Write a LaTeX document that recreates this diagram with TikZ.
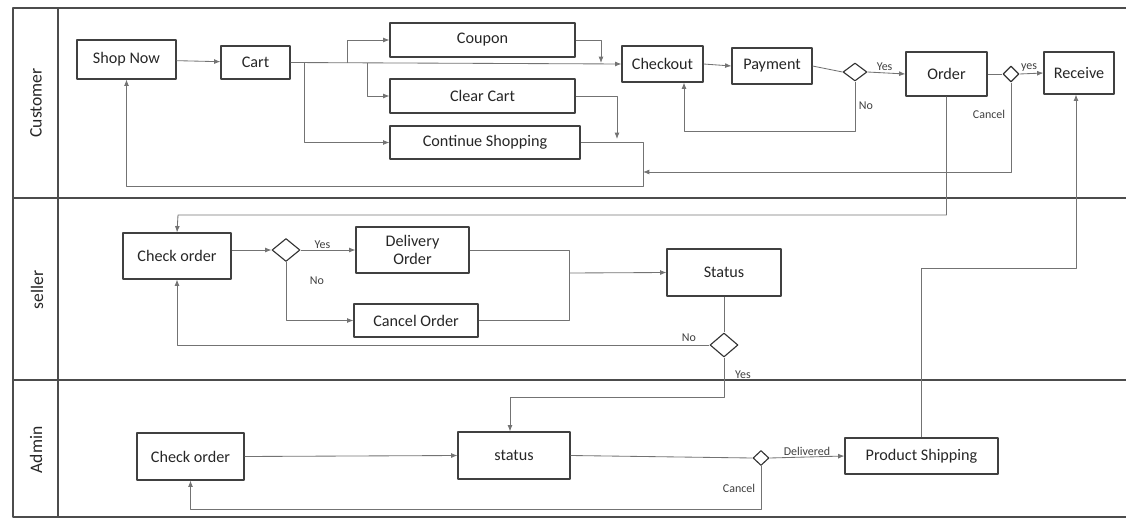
\documentclass[tikz,border=0pt]{standalone}
\usepackage{fontspec}
\setmainfont{Carlito}
\usetikzlibrary{shapes.geometric,arrows.meta}

\begin{document}
\begin{tikzpicture}[
    line join=round,
    % pixel grid of the reference, y pointing down
    x=0.025cm, y=-0.025cm
]

% ---------------------------------------------------------
% 1. BOUNDING BOX (same ratio as the reference)
% ---------------------------------------------------------
\path [use as bounding box] (0,0) rectangle (1126,520);

\tikzset{box/.style 2 args={draw=black!75, line width=0.8pt, minimum width=#1*0.025cm,
    minimum height=#2*0.025cm, inner sep=1pt, font=\fontsize{11.5}{13}\selectfont, text=black!85}}
\tikzset{choice/.style 2 args={diamond, draw=black!80, line width=0.8pt, inner sep=0pt,
    minimum width=#1*0.025cm, minimum height=#2*0.025cm}}
\tikzset{flow/.style={draw=black!55, line width=0.6pt, -{Latex[length=4.5pt,width=3.5pt]}}}
\tikzset{link/.style={draw=black!55, line width=0.6pt}}
\tikzset{tag/.style={font=\fontsize{8.5}{10}\selectfont, text=black!75, inner sep=1pt}}
\tikzset{lane/.style={draw=black!70, line width=1pt}}

% ---------------------------------------------------------
% 2. SWIMLANES
% ---------------------------------------------------------
\draw[lane] (1126,8) -- (13,8) -- (13,517) -- (1126,517);
\draw[lane] (58,8) -- (58,517);
\draw[lane] (13,198) -- (1126,198);
\draw[lane] (13,380) -- (1126,380);

\node[rotate=90, font=\fontsize{12.5}{14}\selectfont, text=black!85] (lcust) at (36,103) {Customer};
\node[rotate=90, font=\fontsize{12.5}{14}\selectfont, text=black!85] (lsell) at (37,290) {seller};
\node[rotate=90, font=\fontsize{12.5}{14}\selectfont, text=black!85] (ladm) at (36,450) {Admin};

% ---------------------------------------------------------
% 3. CUSTOMER LANE
% ---------------------------------------------------------
\node[box={99}{39}]  (shop)     at (126.5,59.5) {Shop Now};
\node[box={69}{33}]  (cart)     at (255.5,62.5) {Cart};
\node[box={185}{34}] (coupon)   at (482.5,40)   {Coupon};
\node[box={185}{34}] (clear)    at (482.5,96)   {Clear Cart};
\node[box={190}{33}] (contshop) at (485,142.5)  {Continue Shopping};
\node[box={81}{36}]  (checkout) at (662.5,64)   {Checkout};
\node[box={80}{36}]  (payment)  at (772,66)     {Payment};
\node[choice={24}{18}] (paid)   at (855,72)     {};
\node[box={81}{44}]  (order)    at (946.5,74)   {Order};
\node[choice={16}{16}] (taken)  at (1011,74)    {};
\node[box={70}{42}]  (receive)  at (1079,73)    {Receive};

% bends and joints
\coordinate (bcoup) at (347,63);
\coordinate (bclear) at (367,63);
\coordinate (bcont) at (304,63);
\coordinate (jcoup) at (601,63);
\coordinate (jclear) at (617,139);
\coordinate (back) at (643,186);
\coordinate (nopay) at (684,131);
\coordinate (cancel) at (643,172);

\draw[flow] (shop) -- (cart);
\draw[flow] (cart.east) -- (checkout.west);
\draw[flow] (bcoup) |- (coupon.west);
\draw[flow] (bclear) |- (clear.west);
\draw[flow] (bcont) |- (contshop.west);
\draw[flow] (coupon.east) -| (jcoup);
\draw[flow] (clear.east) -| (jclear);
\draw[flow] (contshop.east) -| (back) -| (shop.south);

\draw[flow] (checkout.east) -- (payment.west);
\draw[link] (payment.east) -- (paid.west);
\draw[flow] (paid.east) -- node[tag, above, pos=0.45] {Yes} (order.west);
\draw[flow] (paid.south) |- (nopay) -- (checkout.south -| nopay);
\node[tag] (lnopay) at (866,106) {No};

\draw[link] (order.east) -- (taken.west);
\draw[flow] (taken.east) -- node[tag, above, pos=0.4] {yes} (receive.west);
\draw[flow] (taken.south) |- (cancel);
\node[tag] (lcancel) at (989,114) {Cancel};

% ---------------------------------------------------------
% 4. SELLER LANE
% ---------------------------------------------------------
\node[box={108}{46}] (scheck)  at (177,256)   {Check order};
\node[choice={28}{23}] (valid) at (286,250)   {};
\node[box={113}{46}, align=center] (deliver) at (412.5,250) {Delivery\\Order};
\node[box={124}{33}] (cancord) at (416,320.5) {Cancel Order};
\node[box={114}{47}] (sstatus) at (724,272.5) {Status};
\node[choice={28}{24}] (sent)  at (724,345)   {};

\coordinate (toseller) at (178,215);
\coordinate (merge) at (569,273);
\coordinate (toadmin) at (510,397);

\draw[flow] (order.south) |- (toseller) -- (scheck.north);
\draw[flow] (scheck.east |- valid.west) -- (valid.west);
\draw[flow] (valid.east) -- node[tag, above, pos=0.4] {Yes} (deliver.west);
\draw[flow] (valid.south) |- (cancord.west);
\node[tag] (lnovalid) at (317,281) {No};

\draw[link] (deliver.east) -| (merge);
\draw[link] (cancord.east) -| (merge);
\draw[flow] (merge) -- (sstatus.west);
\draw[link] (sstatus.south) -- (sent.north);
\draw[flow] (sent.west) -| (scheck.south);
\node[tag] (lnosent) at (689,338) {No};
\node[tag] (lyessent) at (743,375) {Yes};

% ---------------------------------------------------------
% 5. ADMIN LANE
% ---------------------------------------------------------
\node[box={107}{47}] (acheck)  at (190.5,456.5) {Check order};
\node[box={112}{47}] (astatus) at (514,455.5)   {status};
\node[choice={16}{15}] (shipped) at (761,458)   {};
\node[box={153}{36}] (shipping) at (921.5,456)  {Product Shipping};

\coordinate (toreceive) at (1076,268);
\coordinate (cancadm) at (761,509);

\draw[flow] (sent.south) |- (toadmin) -- (toadmin |- astatus.north);
\draw[flow] (acheck.east) -- (astatus.west);
\draw[link] (astatus.east) -- (shipped.west);
\draw[flow] (shipped.east) -- node[tag, above, pos=0.5] {Delivered} (shipping.west);
\draw[flow] (shipped.south) |- (cancadm) -| (acheck.south);
\node[tag] (lcanadm) at (739,488) {Cancel};
\draw[flow] (shipping.north) |- (toreceive) -- (receive.south -| toreceive);

\end{tikzpicture}
\end{document}
